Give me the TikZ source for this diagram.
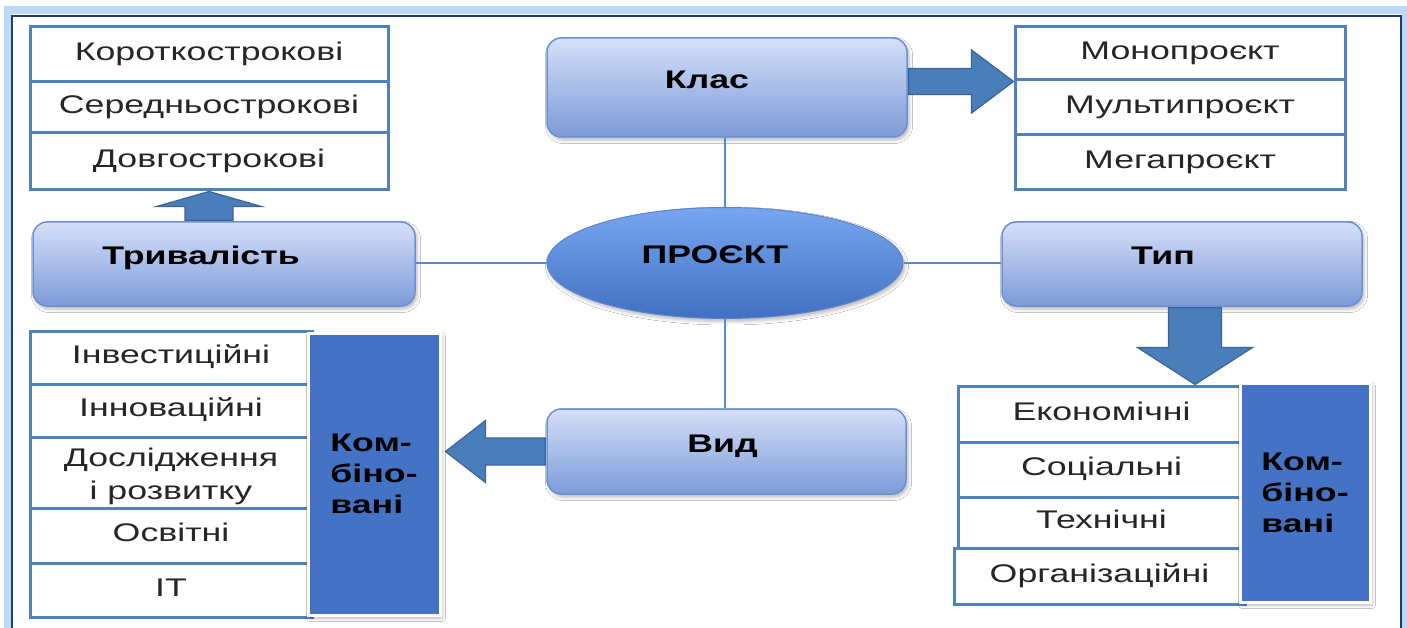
\documentclass[tikz,border=0pt]{standalone}
\usepackage{fontspec}
\setmainfont{Liberation Sans}[FakeStretch=1.4]
\usetikzlibrary{calc,shapes.geometric,shadows.blur}

\definecolor{listblue}{HTML}{4F81BD}
\definecolor{arrowfill}{HTML}{4A7EBB}
\definecolor{arrowedge}{HTML}{3A6599}
\definecolor{boxtop}{HTML}{D5DFF8}
\definecolor{boxbot}{HTML}{7C9BD8}
\definecolor{boxedge}{HTML}{6D90D2}
\definecolor{combfill}{HTML}{4472C4}
\definecolor{ovaltop}{HTML}{78A6F0}
\definecolor{ovalbot}{HTML}{4170C2}
\definecolor{frameblue}{HTML}{1F3B70}
\definecolor{glowblue}{HTML}{BCDAF8}
\definecolor{linkblue}{HTML}{5B8AC6}

\tikzset{
  listrow/.style={font=\fontsize{25.5}{33}\selectfont, text=black!85, inner sep=0pt,
    draw=listblue, line width=3pt, fill=white, text height=18pt, text depth=6pt},
  softshadow/.style={blur shadow={shadow xshift=2pt, shadow yshift=-3pt,
    shadow blur radius=3.5pt, shadow opacity=28}},
  catbox/.style={draw=boxedge, line width=1.5pt, rounded corners=14pt,
    top color=boxtop, bottom color=boxbot, softshadow,
    font=\bfseries\fontsize{25.5}{33}\selectfont, text=black, inner sep=0pt,
    text height=18pt, text depth=16pt},
  oval/.style={ellipse, draw=ovalbot!85!white, line width=1pt,
    top color=ovaltop, bottom color=ovalbot, softshadow,
    font=\bfseries\fontsize{25.5}{33}\selectfont, text=black, inner sep=0pt,
    text height=18pt, text depth=16pt},
  combbox/.style={fill=combfill, draw=white, line width=3pt, softshadow,
    font=\bfseries\fontsize{25.5}{31}\selectfont, text=black, align=left, inner sep=0pt},
  txtleft/.style={execute at end node={\kern#1}},
  blockarrow/.style={fill=arrowfill, draw=arrowedge, line width=1.2pt, line join=miter},
  link/.style={draw=linkblue, line width=1.5pt},
}

\begin{document}
\begin{tikzpicture}[x=1pt,y=-1pt]
\useasboundingbox (0,0) rectangle (1407,628);
\clip (0,0) rectangle (1407,628);
\fill[white] (0,0) rectangle (1407,628);

% outer frame with a light glow
\draw[glowblue, line width=8pt] (8,10) rectangle (1405,660);
\draw[frameblue, line width=2pt] (12,16) rectangle (1401,660);

% duration list (top left)
\node[listrow, minimum width=358pt, minimum height=55pt] (dur1) at (209,54.5) {Короткострокові};
\node[listrow, minimum width=358pt, minimum height=51pt] (dur2) at (209,107.5) {Середньострокові};
\node[listrow, minimum width=358pt, minimum height=57pt] (dur3) at (209,161.5) {Довгострокові};

% class list (top right)
\node[listrow, minimum width=330pt, minimum height=53pt] (mono) at (1180,53.5) {Монопроєкт};
\node[listrow, minimum width=330pt, minimum height=55pt] (multi) at (1180,107.5) {Мультипроєкт};
\node[listrow, minimum width=330pt, minimum height=55pt] (mega) at (1180,162.5) {Мегапроєкт};

% kind list (bottom left)
\node[listrow, minimum width=282pt, minimum height=53pt] (inv) at (171,357.5) {Інвестиційні};
\node[listrow, minimum width=282pt, minimum height=53pt] (inn) at (171,410.5) {Інноваційні};
\node[listrow, minimum width=282pt, minimum height=71pt, text height={}, text depth={}] (res) at (171,472.5)
  {\raisebox{-4pt}[\height][\depth]{\begin{tabular}{@{}c@{}}Дослідження\\і розвитку\end{tabular}}};
\node[listrow, minimum width=282pt, minimum height=55pt] (edu) at (171,535.5) {Освітні};
\node[listrow, minimum width=282pt, minimum height=54pt] (it) at (171,590) {ІТ};

% type list (bottom right)
\node[listrow, minimum width=287pt, minimum height=56pt] (eco) at (1101.5,414) {Економічні};
\node[listrow, minimum width=287pt, minimum height=55pt] (soc) at (1101.5,469.5) {Соціальні};
\node[listrow, minimum width=287pt, minimum height=51pt] (tech) at (1101.5,522.5) {Технічні};
\node[listrow, minimum width=291pt, minimum height=56pt] (org) at (1099.5,576) {Організаційні};

% combined blocks
\node[combbox, minimum width=132pt, minimum height=282pt] (combL) at (374,474) {Ком-\\біно-\\вані};
\node[combbox, minimum width=130pt, minimum height=219pt] (combR) at (1305,492.5) {Ком-\\біно-\\вані};

% category boxes and the central oval
\node[catbox, minimum width=382pt, minimum height=84pt, txtleft=46pt] (trv) at (224,264) {Тривалість};
\node[catbox, minimum width=360pt, minimum height=99pt, txtleft=40pt] (klas) at (727,87.5) {Клас};
\node[catbox, minimum width=360pt, minimum height=84pt, txtleft=38pt] (typ) at (1182,264) {Тип};
\node[catbox, minimum width=359pt, minimum height=85pt, txtleft=8pt] (vid) at (726.5,451.5) {Вид};
\node[oval, minimum width=356pt, minimum height=111pt, txtleft=20pt] (proj) at (725,263) {ПРОЄКТ};

\coordinate (vt) at ($(combL.east |- vid.west)+(4,0)$);
\coordinate (dt) at ($(typ.south |- eco.north)+(13,0)$);

% thin links from the oval to the categories
\draw[link] (proj.north) -- (proj.north |- klas.south);
\draw[link] (proj.south) -- (proj.south |- vid.north);
\draw[link] (proj.west) -- (trv.east |- proj.west);
\draw[link] (proj.east) -- (typ.west |- proj.east);

% block arrows from the categories to their lists
\draw[blockarrow] (dur3.south) -- ++(52.5,15) -- ++(-28.5,0)
  -- ($(dur3.south |- trv.north)+(24,-1)$) -- ++(-48,0)
  -- ($(dur3.south)+(-24,15)$) -- ++(-28.5,0) -- cycle;
\draw[blockarrow] (mono.south west) -- ++(-42,-31.5) -- ++(0,18.5)
  -- ($(klas.east |- mono.south west)+(1,-13)$) -- ++(0,26)
  -- ($(mono.south west)+(-42,13)$) -- ++(0,18.5) -- cycle;
\draw[blockarrow] (vt) -- ++(40,-31) -- ++(0,17.5)
  -- ($(vid.west)+(-1,-13.5)$) -- ++(0,27)
  -- ($(vt)+(40,13.5)$) -- ++(0,17.5) -- cycle;
\draw[blockarrow] (dt) -- ++(57.5,-37) -- ++(-31,0)
  -- ($(typ.south)+(39.5,1)$) -- ++(-53,0)
  -- ($(dt)+(-26.5,-37)$) -- ++(-31,0) -- cycle;
\end{tikzpicture}
\end{document}
